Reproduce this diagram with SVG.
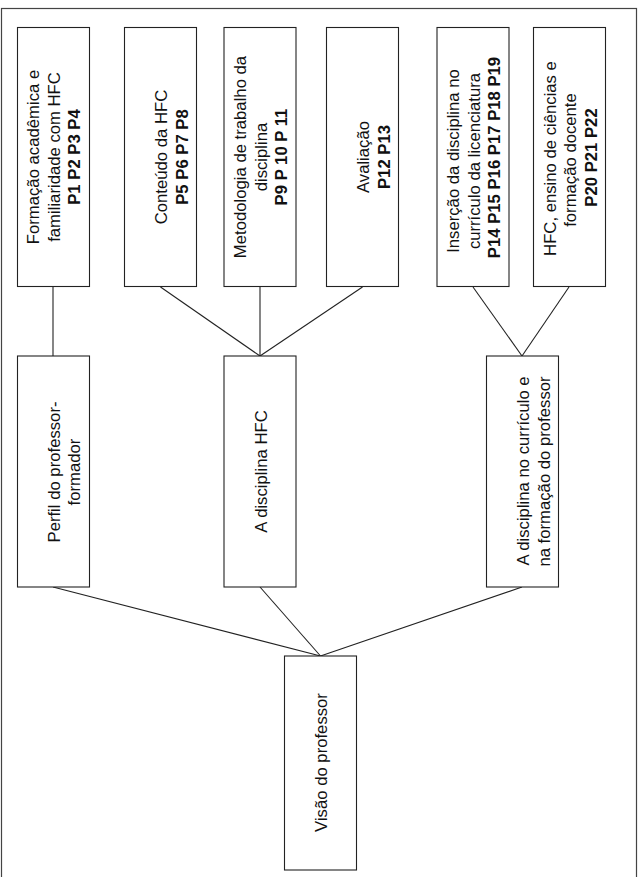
<svg xmlns="http://www.w3.org/2000/svg" width="640" height="877" viewBox="0 0 640 877">
<style>
.box{fill:#fff;stroke:#222;stroke-width:1.1}
.frame{fill:#fff;stroke:#444;stroke-width:1.2}
.t{font-family:"Liberation Sans",Arial,sans-serif;font-size:16.7px;fill:#111;text-anchor:middle}
.b{font-weight:bold}
.c line{stroke:#222;stroke-width:1.1}
</style>
<rect class="frame" x="1.5" y="8.5" width="635" height="880"/>
<g class="c" id="connectors">
<line x1="53" y1="287" x2="53" y2="356"/>
<line x1="160.5" y1="287" x2="260" y2="356"/>
<line x1="260" y1="287" x2="260" y2="356"/>
<line x1="362.5" y1="287" x2="260" y2="356"/>
<line x1="473" y1="287" x2="522" y2="356"/>
<line x1="569" y1="287" x2="522" y2="356"/>
<line x1="53" y1="587" x2="320.5" y2="656"/>
<line x1="260" y1="587" x2="320.5" y2="656"/>
<line x1="522" y1="587" x2="320.5" y2="656"/>
</g>
<g id="formacao">
<rect class="box" x="17.5" y="27.5" width="72" height="259"/>
<text class="t" x="39" y="157" transform="rotate(-90 39 157)">Formação acadêmica e</text>
<text class="t" x="59.7" y="157" transform="rotate(-90 59.7 157)">familiaridade com HFC</text>
<text class="t b" x="80.4" y="157" transform="rotate(-90 80.4 157)">P1 P2 P3 P4</text>
</g>
<g id="conteudo">
<rect class="box" x="124.5" y="27.5" width="72" height="259"/>
<text class="t" x="167.2" y="157" transform="rotate(-90 167.2 157)">Conteúdo da HFC</text>
<text class="t b" x="187.9" y="157" transform="rotate(-90 187.9 157)">P5 P6 P7 P8</text>
</g>
<g id="metodologia">
<rect class="box" x="224" y="27.5" width="72" height="259"/>
<text class="t" x="246" y="157" transform="rotate(-90 246 157)">Metodologia de trabalho da</text>
<text class="t" x="266.7" y="157" transform="rotate(-90 266.7 157)">disciplina</text>
<text class="t b" x="287.4" y="157" transform="rotate(-90 287.4 157)">P9 P 10 P 11</text>
</g>
<g id="avaliacao">
<rect class="box" x="326.5" y="27.5" width="72" height="259"/>
<text class="t" x="369.2" y="157" transform="rotate(-90 369.2 157)">Avaliação</text>
<text class="t b" x="389.9" y="157" transform="rotate(-90 389.9 157)">P12 P13</text>
</g>
<g id="insercao">
<rect class="box" x="437" y="27.5" width="72" height="259"/>
<text class="t" x="459" y="161" transform="rotate(-90 459 161)">Inserção da disciplina no</text>
<text class="t" x="479.7" y="161" transform="rotate(-90 479.7 161)">currículo da licenciatura</text>
<text class="t b" x="500.4" y="157.5" transform="rotate(-90 500.4 157.5)">P14 P15 P16 P17 P18 P19</text>
</g>
<g id="hfc_ensino">
<rect class="box" x="533.5" y="27.5" width="72" height="259"/>
<text class="t" x="555.5" y="158.5" transform="rotate(-90 555.5 158.5)">HFC, ensino de ciências e</text>
<text class="t" x="576.2" y="160" transform="rotate(-90 576.2 160)">formação docente</text>
<text class="t b" x="596.9" y="157.5" transform="rotate(-90 596.9 157.5)">P20 P21 P22</text>
</g>
<g id="perfil">
<rect class="box" x="17.5" y="356" width="72" height="231"/>
<text class="t" x="59.7" y="472" transform="rotate(-90 59.7 472)">Perfil do professor-</text>
<text class="t" x="80.4" y="472" transform="rotate(-90 80.4 472)">formador</text>
</g>
<g id="disciplina_hfc">
<rect class="box" x="224" y="356" width="72" height="231"/>
<text class="t" x="266.7" y="471.5" transform="rotate(-90 266.7 471.5)">A disciplina HFC</text>
</g>
<g id="disciplina_curriculo">
<rect class="box" x="486.5" y="356" width="72" height="231"/>
<text class="t" x="529.2" y="471" transform="rotate(-90 529.2 471)">A disciplina no currículo e</text>
<text class="t" x="549.9" y="471.5" transform="rotate(-90 549.9 471.5)">na formação do professor</text>
</g>
<g id="visao">
<rect class="box" x="284.5" y="656" width="72" height="214"/>
<text class="t" x="327" y="762.5" transform="rotate(-90 327 762.5)">Visão do professor</text>
</g>
</svg>
